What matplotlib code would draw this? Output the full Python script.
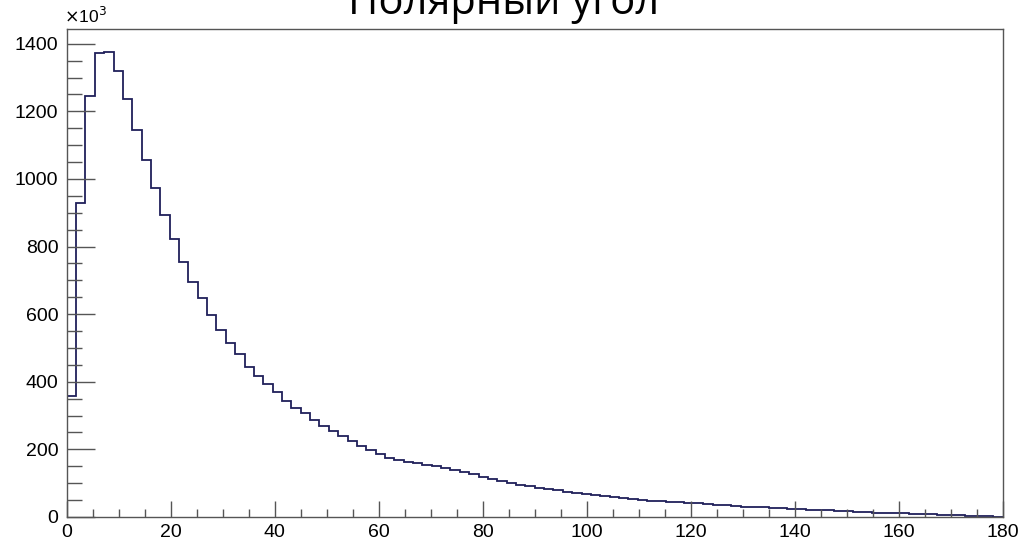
import numpy as np
import matplotlib.pyplot as plt
from matplotlib.ticker import MultipleLocator

# counts per 1.8 degree bin, in units of 10^3
counts = [358, 930, 1246, 1372, 1375, 1320, 1237, 1144, 1057, 973,
          892, 822, 754, 696, 647, 598, 553, 516, 482, 445,
          418, 394, 369, 344, 323, 307, 287, 270, 255, 240,
          225, 211, 198, 186, 174, 169, 164, 159, 155, 150,
          144, 139, 132, 126, 119, 112, 106, 101, 96, 92,
          87, 83, 79, 75, 72, 68, 65, 62, 59, 56,
          53, 51, 48, 46, 44, 43, 41, 40, 38, 36,
          34, 33, 31, 30, 29, 27, 26, 25, 24, 22,
          21, 20, 18, 17, 16, 14, 13, 12, 11, 11,
          10, 9, 8, 7, 6, 5, 4, 3, 2, 1]
edges = np.linspace(0, 180, len(counts) + 1)
title = "Полярный угол"

plt.rcParams['font.family'] = ['Liberation Sans', 'DejaVu Sans']

fig = plt.figure(figsize=(10.36, 5.45), dpi=100)
ax = fig.add_axes([0.0644, 0.0514, 0.9035, 0.8954])

ax.stairs(counts, edges, color='#20205a', lw=1.3, baseline=0)

ax.set_xlim(0, 180)
ax.set_ylim(0, max(counts) * 1.05)

ax.xaxis.set_major_locator(MultipleLocator(20))
ax.xaxis.set_minor_locator(MultipleLocator(5))
ax.yaxis.set_major_locator(MultipleLocator(200))
ax.yaxis.set_minor_locator(MultipleLocator(50))

for s in ax.spines.values():
    s.set_color('#555555')
    s.set_linewidth(1.0)

ax.tick_params(axis='x', which='major', direction='in', length=11.3, width=1,
               color='#555555', labelsize=14, pad=5)
ax.tick_params(axis='x', which='minor', direction='in', length=6, width=1,
               color='#555555')
ax.tick_params(axis='y', which='major', direction='in', length=20.2, width=1,
               color='#555555', labelsize=14, pad=6)
ax.tick_params(axis='y', which='minor', direction='in', length=10.8, width=1,
               color='#555555')

fig.text(0.062, 0.953, r"$\times$10$^3$", fontsize=12.5, ha='left', va='bottom')
fig.text(0.486, 1 - 14 / 545, title, fontsize=30, ha='center', va='baseline',
         family=['Open Sans', 'DejaVu Sans'])

fig.savefig('out.png', dpi=100)
